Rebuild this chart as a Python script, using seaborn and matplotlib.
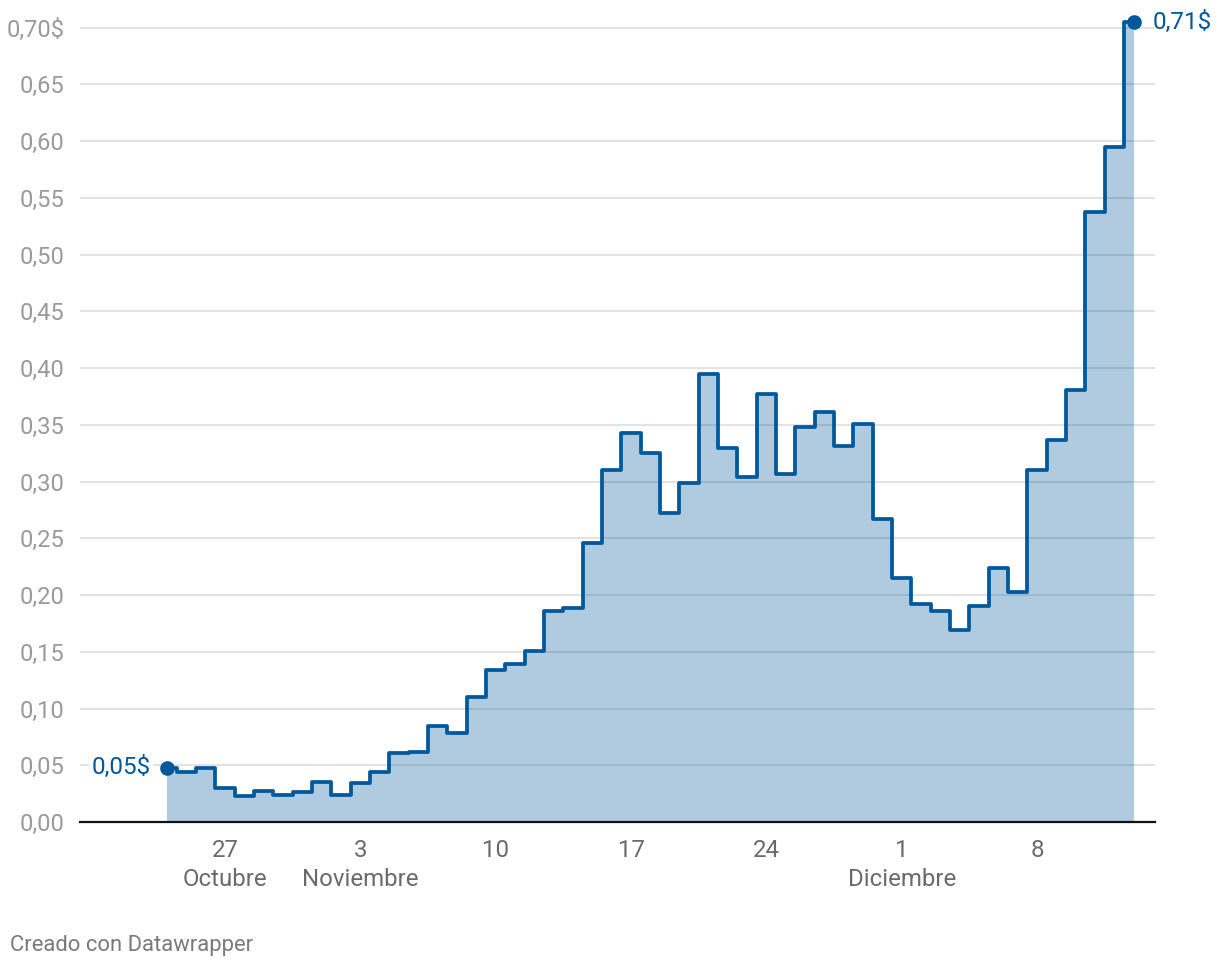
import numpy as np
import pandas as pd
import matplotlib
matplotlib.use("Agg")
import matplotlib.pyplot as plt
import matplotlib.dates as mdates
from matplotlib.ticker import FuncFormatter
import seaborn as sns

# ---- data ----
start_date = "2023-10-24"
prices = [0.048, 0.044, 0.048, 0.030, 0.023, 0.027, 0.024, 0.026, 0.035, 0.024,
          0.034, 0.044, 0.061, 0.0615, 0.085, 0.078, 0.110, 0.134, 0.139, 0.151,
          0.186, 0.189, 0.246, 0.310, 0.343, 0.325, 0.272, 0.299, 0.395, 0.330,
          0.304, 0.377, 0.307, 0.348, 0.361, 0.331, 0.351, 0.267, 0.215, 0.192,
          0.186, 0.169, 0.190, 0.224, 0.203, 0.310, 0.337, 0.381, 0.538, 0.595,
          0.705]
dates = pd.date_range(start_date, periods=len(prices), freq="D")
tick_dates = ["2023-10-27", "2023-11-03", "2023-11-10", "2023-11-17",
              "2023-11-24", "2023-12-01", "2023-12-08"]
tick_labels = ["27\nOctubre", "3\nNoviembre", "10", "17", "24", "1\nDiciembre", "8"]
y_ticks = [0.00, 0.05, 0.10, 0.15, 0.20, 0.25, 0.30, 0.35, 0.40, 0.45,
           0.50, 0.55, 0.60, 0.65, 0.70]
first_label = "0,05$"
last_label = "0,71$"
footer = "Creado con Datawrapper"

df = pd.DataFrame({"fecha": dates, "precio": prices})

LINE = "#00589c"
sns.set_theme(style="white")
plt.rcParams["font.family"] = ["Roboto", "DejaVu Sans"]

W, H = 1220, 968
fig = plt.figure(figsize=(W / 100, H / 100), dpi=100)
ax = fig.add_axes([80 / W, 1 - 822 / H, (1155 - 80) / W, (822 - 5) / H])

ax.set_ylim(0, 0.72)
ref = pd.Timestamp("2023-10-27")
x0 = ref - pd.Timedelta(days=145 / 19.333)
x1 = ref + pd.Timedelta(days=930 / 19.333)
ax.set_xlim(x0, x1)

# grid
for yv in y_ticks[1:]:
    ax.axhline(yv, color="#e3e3e3", lw=1.4, zorder=0)

ax.fill_between(df["fecha"], df["precio"], step="mid", color=LINE, alpha=0.31,
                lw=0, zorder=1)
sns.lineplot(data=df, x="fecha", y="precio", ax=ax, color=LINE, lw=2.7,
             drawstyle="steps-mid", zorder=3)
ax.plot([dates[0], dates[-1]], [prices[0], prices[-1]], "o", color=LINE,
        ms=9.5, zorder=4, clip_on=False)

ax.text(dates[0] - pd.Timedelta(days=0.85), prices[0], first_label, color=LINE,
        fontsize=17.5, ha="right", va="center", zorder=5,
        bbox=dict(boxstyle="square,pad=0.1", fc="white", ec="none"))
ax.text(dates[-1] + pd.Timedelta(days=0.98), prices[-1], last_label, color=LINE,
        fontsize=17.5, ha="left", va="center", zorder=5, clip_on=False)

ax.set_xlabel("")
ax.set_ylabel("")
ax.set_xticks(pd.to_datetime(tick_dates))
ax.set_xticklabels(tick_labels, color="#6a6a6a", fontsize=17.3, linespacing=1.33)
ax.set_yticks(y_ticks)
ax.yaxis.set_major_formatter(FuncFormatter(
    lambda v, p: (f"{v:.2f}".replace(".", ",") + ("$" if abs(v - 0.70) < 1e-9 else ""))))
ax.tick_params(axis="y", length=0, pad=11, labelsize=17.1, labelcolor="#9a9a9a")
ax.tick_params(axis="x", length=0, pad=12)

for s in ["top", "right", "left"]:
    ax.spines[s].set_visible(False)
ax.spines["bottom"].set_color("#111111")
ax.spines["bottom"].set_linewidth(1.6)
ax.spines["bottom"].set_zorder(6)
ax.grid(False)

fig.text(10 / W, 1 - 945 / H, footer, color="#7a7a7a", fontsize=15.8,
         ha="left", va="center")

fig.savefig("out.png", dpi=100, facecolor="white")
